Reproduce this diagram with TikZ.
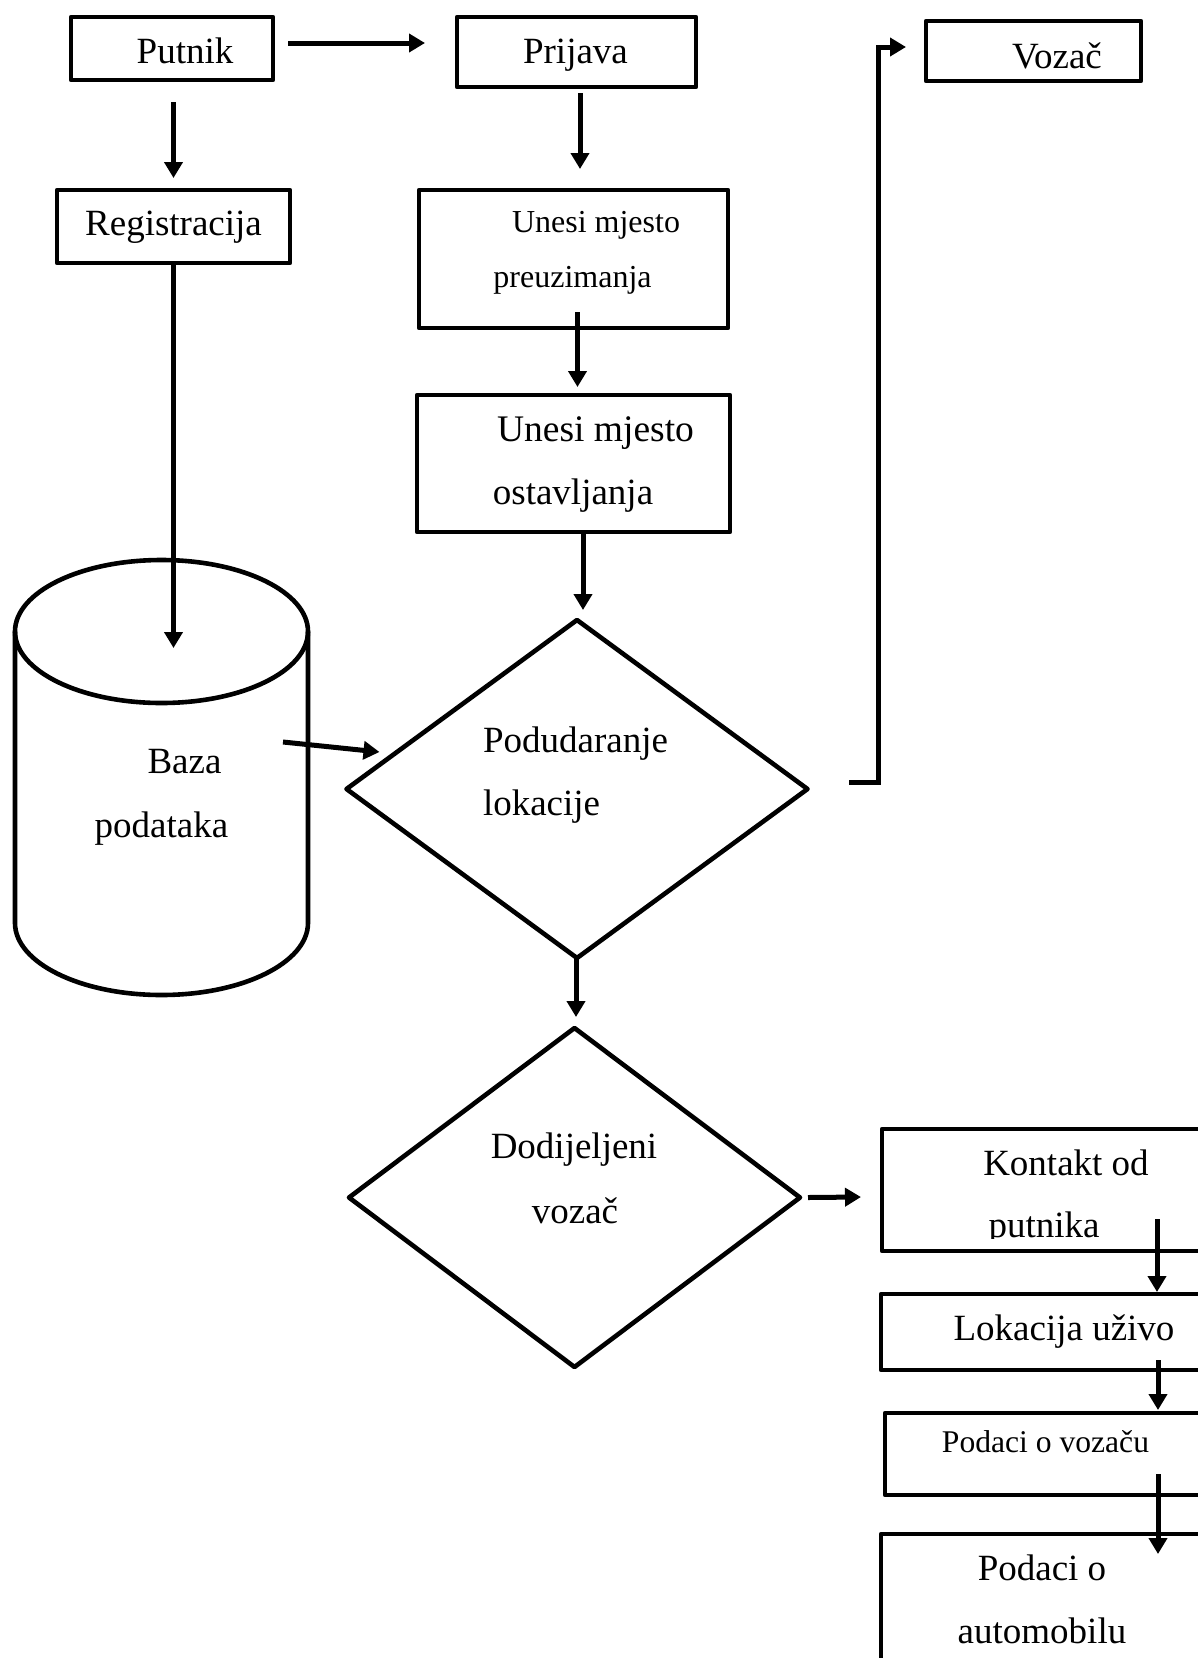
\documentclass[tikz,border=0pt]{standalone}
\usepackage{fontspec}
\setmainfont{Liberation Serif}
\usetikzlibrary{shapes.geometric,arrows.meta,calc}
\newcommand\fsz[1]{\fontsize{#1}{#1}\selectfont}
\tikzset{
  box/.style={draw, line width=4.6pt, rectangle, inner sep=0pt, outer sep=0pt, line join=round},
  dia/.style={draw, line width=4.6pt, diamond, inner sep=0pt, outer sep=0pt, line join=round},
  lbl/.style={inner sep=0pt, outer sep=0pt, anchor=base, font=\fsz{37}},
  arr/.style={line width=5pt, -{Triangle[length=16pt,width=18pt]}},
}
\begin{document}
\begin{tikzpicture}[x=1pt,y=-1pt]
\useasboundingbox (0,0) rectangle (1198,1658);
\clip (0,0) rectangle (1198,1658);
\fill[white] (0,0) rectangle (1198,1658);

% boxes
\node[box, minimum width=202pt, minimum height=63pt] (putnik) at (172,48.5) {};
\node[box, minimum width=239pt, minimum height=70pt] (prijava) at (576.5,52) {};
\node[box, minimum width=215pt, minimum height=60pt] (vozac) at (1033.5,51) {};
\node[box, minimum width=233pt, minimum height=73pt] (registracija) at (173.5,226.5) {};
\node[box, minimum width=309pt, minimum height=138pt] (preuz) at (573.5,259) {};
\node[box, minimum width=313pt, minimum height=137pt] (ostav) at (573.5,463.5) {};
\node[dia, minimum width=461pt, minimum height=338pt] (d1) at (577,789) {};
\node[dia, minimum width=451pt, minimum height=339pt] (d2) at (574.5,1197.5) {};
\node[box, minimum width=358pt, minimum height=122pt] (kontakt) at (1061,1190) {};
\node[box, minimum width=359pt, minimum height=76pt] (lokacija) at (1060.5,1332) {};
\node[box, minimum width=355pt, minimum height=82pt] (vozacu) at (1062.5,1454) {};
\node[box, minimum width=359pt, minimum height=186pt] (automobil) at (1060.5,1627) {};

% cylinder (database)
\coordinate (db) at (161.5,777.5);
\draw[line width=4.6pt] (15,631.5) -- (15,923) arc[start angle=180, end angle=0, x radius=146.5, y radius=72] -- (308,631.5);
\draw[line width=4.6pt] (161.5,631.5) ellipse [x radius=146.5, y radius=71.5];

% texts
\node[lbl] (tputnik) at (185,63) {Putnik};
\node[lbl] (tprijava) at (575.5,63) {Prijava};
\node[lbl] (tvozac) at (1057,68) {Vozač};
\node[lbl] (tregistracija) at (173.5,235) {Registracija};
\node[lbl, font=\fsz{32}] (tpreuza) at (596,232) {Unesi mjesto};
\node[lbl, font=\fsz{32}] (tpreuzb) at (572.5,287) {preuzimanja};
\node[lbl, font=\fsz{37.5}] (tostava) at (595.5,441) {Unesi mjesto};
\node[lbl] (tostavb) at (573,504) {ostavljanja};
\node[lbl] (tbaza) at (184.5,773) {Baza};
\node[lbl] (tpodataka) at (161.5,837) {podataka};
\node[lbl, anchor=base west] (tpodud) at (483,752) {Podudaranje};
\node[lbl, anchor=base west] (tlokac) at (483,815) {lokacije};
\node[lbl] (tdodij) at (574,1158) {Dodijeljeni};
\node[lbl] (tvozac2) at (575,1223) {vozač};
\node[lbl] (tkontakt) at (1066,1175) {Kontakt od};
\begin{scope}
\clip (880,1100) rectangle (1240,1238);
\node[lbl] (tputnika) at (1044,1237) {putnika};
\end{scope}
\node[lbl] (tlokacija) at (1064,1340) {Lokacija uživo};
\node[lbl, font=\fsz{31.6}] (tvozacu) at (1045.5,1452) {Podaci o vozaču};
\node[lbl] (tpodaci) at (1042,1580) {Podaci o};
\node[lbl] (tautomobilu) at (1042,1643) {automobilu};

% connectors
\draw[arr] ($(putnik.east)+(15,-5.5)$) -- ($(prijava.west)+(-32,-9)$);
\draw[arr] ($(putnik.south)+(1.5,22)$) -- ($(registracija.north)+(0,-12)$);
\draw[arr] ($(prijava.south)+(3.5,6)$) -- ($(preuz.north)+(6.5,-21)$);
\draw[arr] (registracija.south) -- ($(db)+(12,-129.5)$);
\draw[arr] ($(db)+(121.5,-35.5)$) -- ($(d1.west)+(33,-37)$);
\draw[arr] ($(preuz.south)+(4,-16)$) -- ($(ostav.north)+(4,-8)$);
\draw[arr] ($(ostav.south)+(9.5,0)$) -- ($(d1.north)+(6,-10)$);
\draw[arr] ($(d1.south)+(-1,0)$) -- ($(d2.north)+(1.5,-11)$);
\draw[arr] ($(d1.east)+(41.5,-7)$) -| ($(vozac.west)+(-48,-4)$) -- ($(vozac.west)+(-20,-4)$);
\draw[arr] ($(d2.east)+(8,0)$) -- ($(kontakt.west)+(-21,7)$);
\draw[arr] ($(kontakt.south)+(96,-32)$) -- ($(lokacija.north)+(96.5,-2)$);
\draw[arr] ($(lokacija.south)+(97.5,-10)$) -- ($(vozacu.north)+(95.5,-3)$);
\draw[arr] ($(vozacu.south)+(95.5,-21)$) -- ($(automobil.north)+(97.5,20)$);
\end{tikzpicture}
\end{document}
